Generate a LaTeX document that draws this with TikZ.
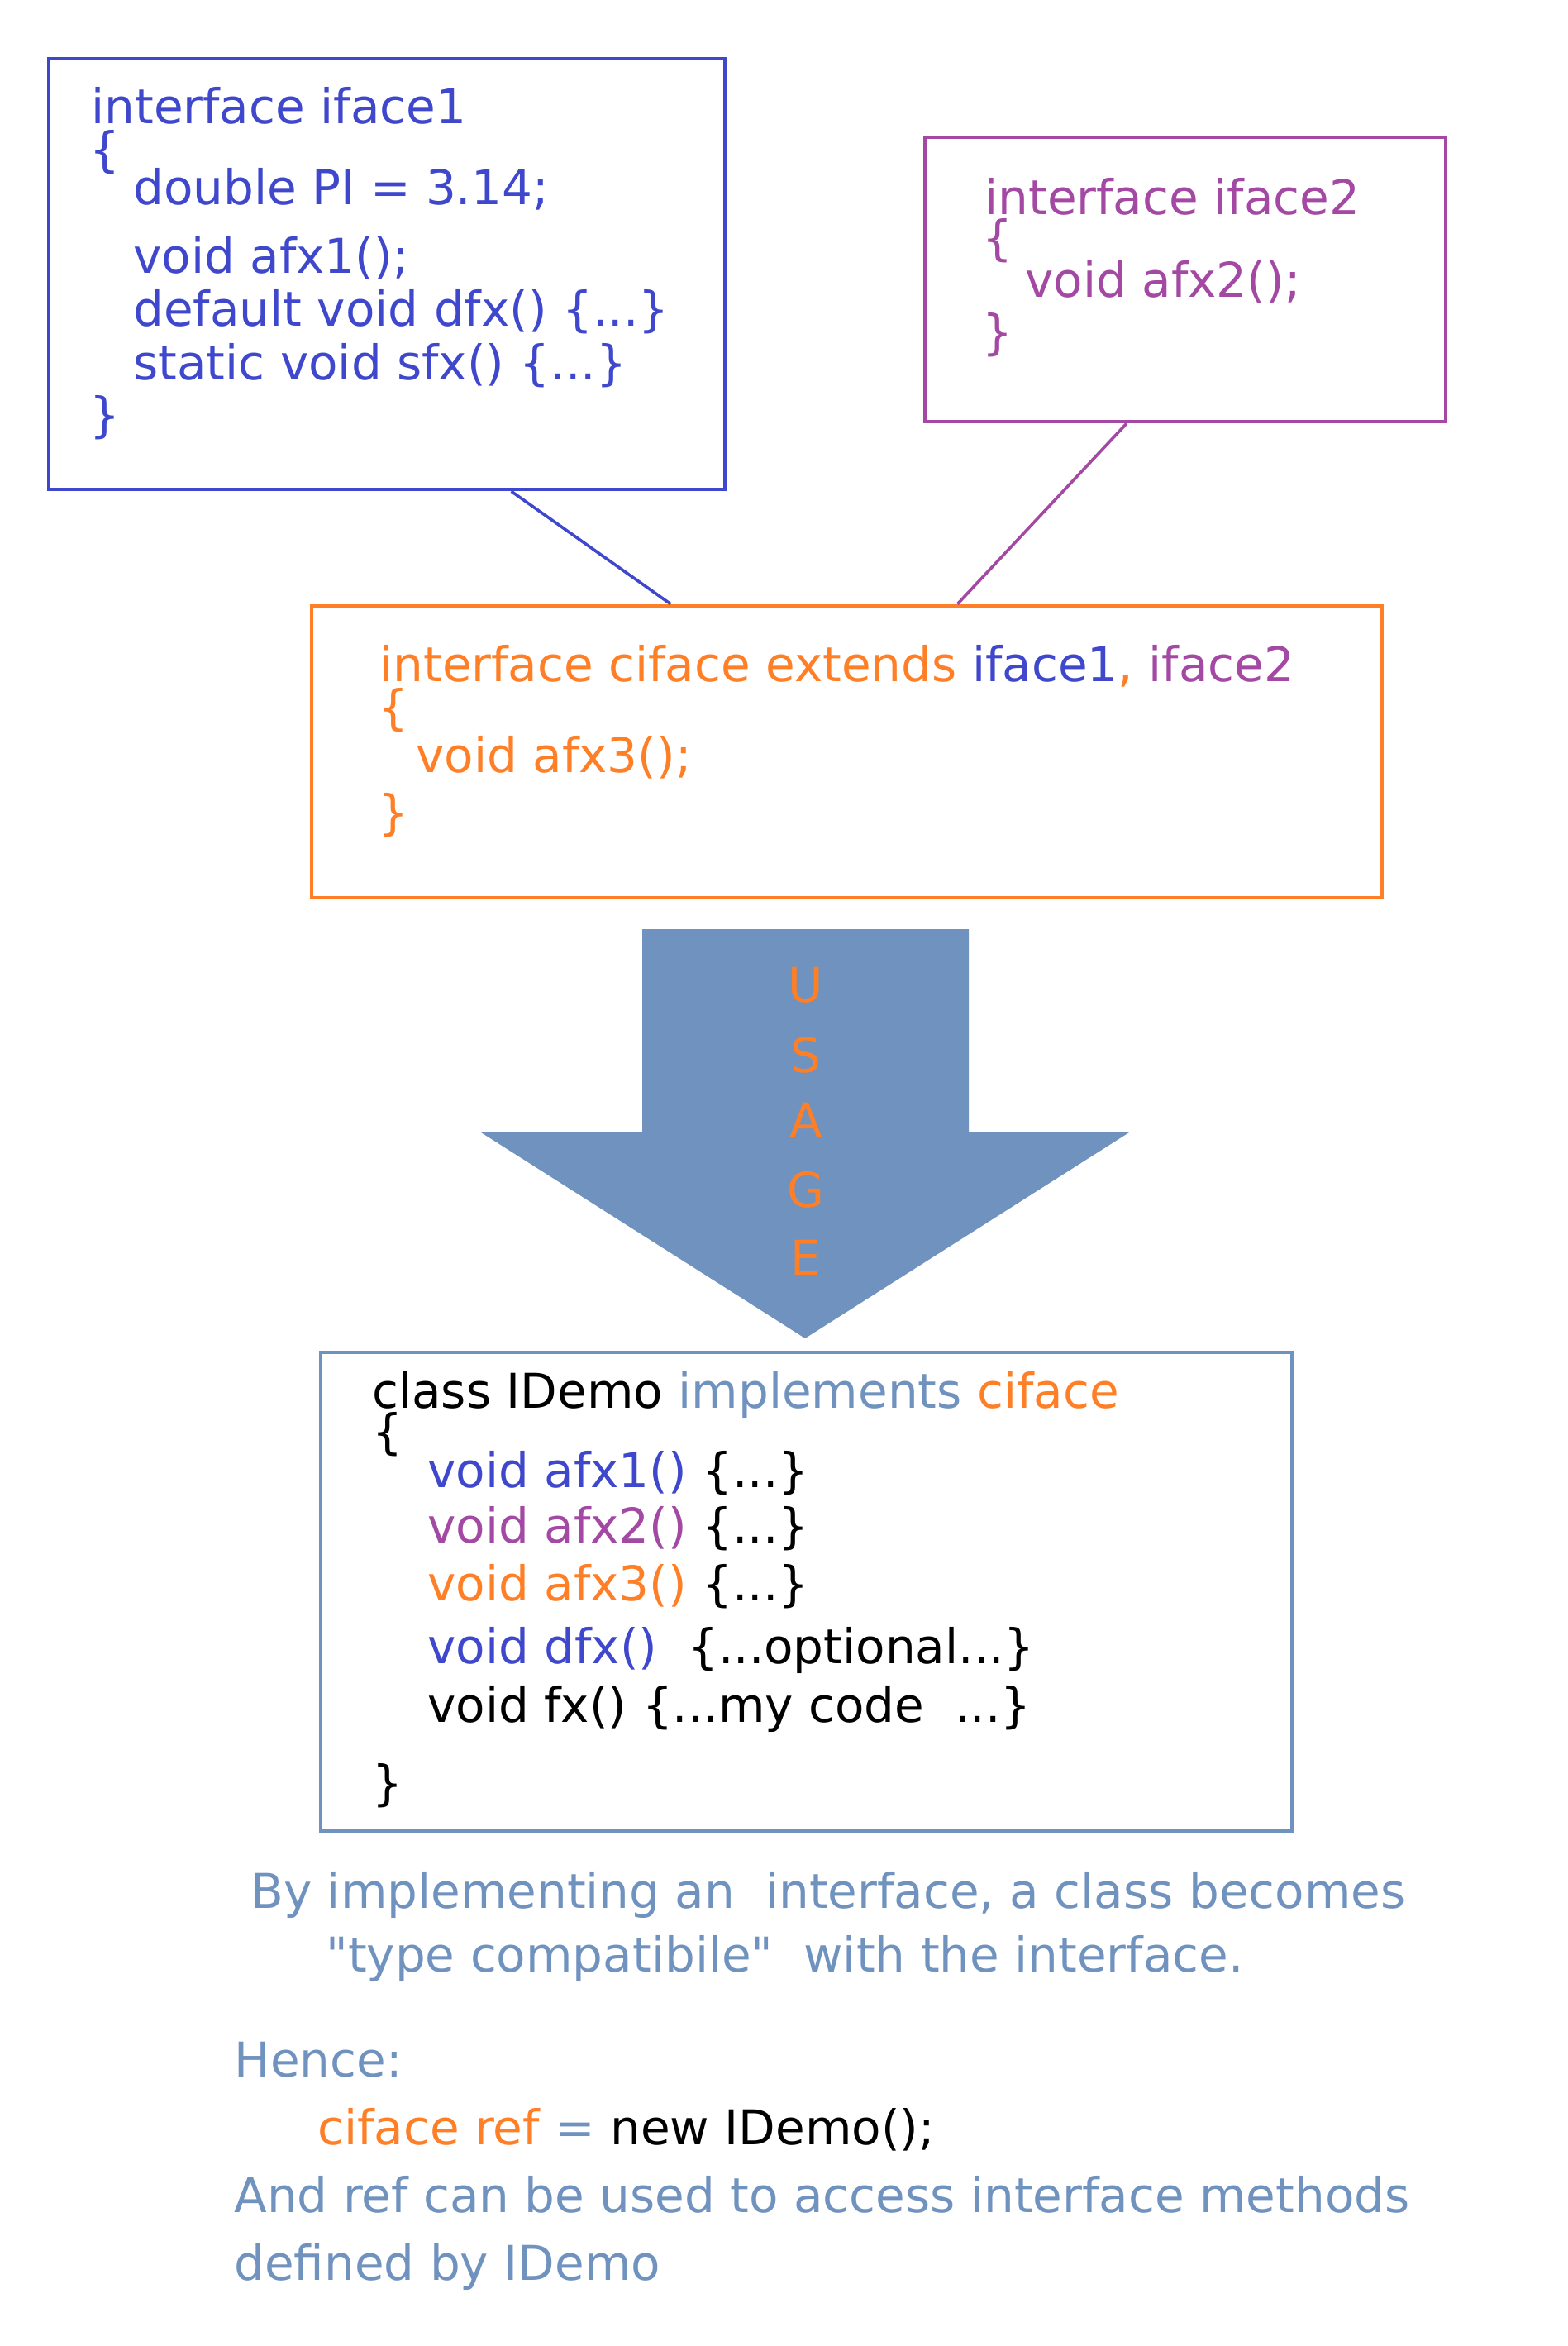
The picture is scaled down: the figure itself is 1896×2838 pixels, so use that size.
\documentclass[tikz,border=0pt]{standalone}
\usepackage{fontspec}
\setmainfont{DejaVu Sans}[Ligatures=TeXOff]
\usetikzlibrary{calc}
\definecolor{cblue}{HTML}{3F48CC}
\definecolor{cpurple}{HTML}{A349A4}
\definecolor{corange}{HTML}{FF7F27}
\definecolor{csteel}{HTML}{7092BE}
\begin{document}
\begin{tikzpicture}[x=0.5pt,y=-0.5pt,
  box/.style={draw, line width=2.3pt, inner sep=0pt},
  txt/.style={anchor=base west, inner sep=0pt, font=\fontsize{29}{35}\selectfont},
  brace/.style={anchor=west, inner sep=0pt, font=\fontsize{29}{35}\selectfont},
  link/.style={line width=1.8pt},
  letter/.style={text=corange, inner sep=0pt, font=\fontsize{29}{35}\selectfont}]
\fill[white] (0,0) rectangle (1896,2838);
\useasboundingbox (0,0) rectangle (1896,2838);

% boxes
\node[box, draw=cblue, minimum width=409pt, minimum height=260.5pt] (b1) at (468,331.5) {};
\node[box, draw=cpurple, minimum width=315pt, minimum height=172pt] (b2) at (1434,338) {};
\node[box, draw=corange, minimum width=647.5pt, minimum height=176.5pt] (b3) at (1024.5,909.5) {};
\node[box, draw=csteel, minimum width=587.5pt, minimum height=289.5pt] (b4) at (975.5,1925.5) {};

% connectors
\coordinate (l1a) at ($(b1.south west)!0.683!(b1.south east)$);
\coordinate (l1b) at ($(b3.north west)!0.336!(b3.north east)$);
\coordinate (l2a) at ($(b2.south west)!0.388!(b2.south east)$);
\coordinate (l2b) at ($(b3.north west)!0.603!(b3.north east)$);
\draw[link, cblue] (l1a) -- (l1b);
\draw[link, cpurple] (l2a) -- (l2b);

% box 1
\begin{scope}[text=cblue]
\node[txt] (t11) at (110,149) {interface iface1};
\node[brace] (t12) at (108,184) {\{};
\node[txt] (t13) at (161,247) {double PI = 3.14;};
\node[txt] (t14) at (161,330) {void afx1();};
\node[txt] (t15) at (161,394) {default void dfx() \{...\}};
\node[txt] (t16) at (161,459) {static void sfx() \{...\}};
\node[brace] (t17) at (108,505) {\}};
\end{scope}

% box 2
\begin{scope}[text=cpurple]
\node[txt] (t21) at (1191,259) {interface iface2};
\node[brace] (t22) at (1188,291) {\{};
\node[txt] (t23) at (1240,359) {void afx2();};
\node[brace] (t24) at (1188,405) {\}};
\end{scope}

% box 3
\begin{scope}[text=corange]
\node[txt] (t31) at (459,824) {interface ciface extends \textcolor{cblue}{iface1}, \textcolor{cpurple}{iface2}};
\node[brace] (t32) at (457,859) {\{};
\node[txt] (t33) at (503,934) {void afx3();};
\node[brace] (t34) at (457,986) {\}};
\end{scope}

% arrow
\fill[csteel] (777,1124) -- (1172,1124) -- (1172,1370) -- (1366,1370) -- (974,1619) -- (582,1370) -- (777,1370) -- cycle;
\node[letter] (u1) at (975,1192) {U};
\node[letter] (u2) at (975,1276) {S};
\node[letter] (u3) at (975,1355) {A};
\node[letter] (u4) at (975,1439) {G};
\node[letter] (u5) at (975,1521) {E};

% box 4
\begin{scope}[text=black]
\node[txt] (t41) at (450,1703) {class IDemo \textcolor{csteel}{implements} \textcolor{corange}{ciface}};
\node[brace] (t42) at (450,1735) {\{};
\node[txt] (t43) at (517,1799) {\textcolor{cblue}{void afx1()} \{...\}};
\node[txt] (t44) at (517,1866) {\textcolor{cpurple}{void afx2()} \{...\}};
\node[txt] (t45) at (517,1936) {\textcolor{corange}{void afx3()} \{...\}};
\node[txt] (t46) at (517,2012) {\textcolor{cblue}{void dfx()}\ \ \{...optional...\}};
\node[txt] (t47) at (517,2083) {void fx() \{...my code\ \ ...\}};
\node[brace] (t48) at (450,2160) {\}};
\end{scope}

% explanation
\begin{scope}[text=csteel]
\node[txt] (e1) at (303,2308) {By implementing an\ \ interface, a class becomes};
\node[txt] (e2) at (394,2385) {"type compatibile"\ \ with the interface.};
\node[txt] (e3) at (283,2512) {Hence:};
\node[txt] (e4) at (384,2594) {\textcolor{corange}{ciface ref} = \textcolor{black}{new IDemo();}};
\node[txt] (e5) at (283,2676) {And ref can be used to access interface methods};
\node[txt] (e6) at (283,2758) {defined by IDemo};
\end{scope}
\end{tikzpicture}
\end{document}
